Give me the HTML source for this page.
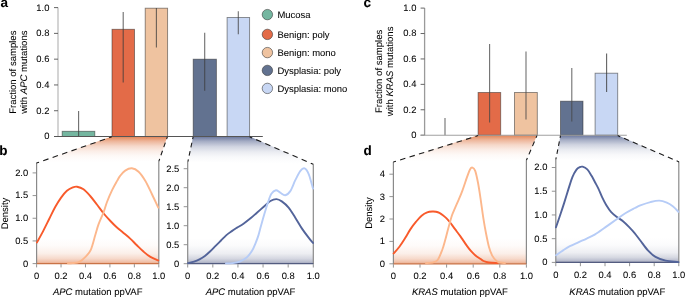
<!DOCTYPE html>
<html><head><meta charset="utf-8"><style>
html,body{margin:0;padding:0;background:#fff;width:685px;height:297px;overflow:hidden;}
svg{display:block;filter:blur(0.3px);}
text{text-rendering:geometricPrecision;font-family:"Liberation Sans", sans-serif;stroke:#000;stroke-width:0.06px;}
</style></head><body>
<svg width="685" height="297" viewBox="0 0 685 297">
<defs><linearGradient id="gTopO" x1="0" y1="0" x2="0" y2="1"><stop offset="0" stop-color="#df7a48" stop-opacity="0.92"/><stop offset="0.17" stop-color="#df7a48" stop-opacity="0.56"/><stop offset="0.36" stop-color="#df7a48" stop-opacity="0.29"/><stop offset="0.55" stop-color="#df7a48" stop-opacity="0.13"/><stop offset="0.73" stop-color="#df7a48" stop-opacity="0.045"/><stop offset="0.9" stop-color="#df7a48" stop-opacity="0.01"/><stop offset="1" stop-color="#df7a48" stop-opacity="0.0"/></linearGradient>
<linearGradient id="gTopB" x1="0" y1="0" x2="0" y2="1"><stop offset="0" stop-color="#5e6c96" stop-opacity="0.92"/><stop offset="0.17" stop-color="#5e6c96" stop-opacity="0.56"/><stop offset="0.36" stop-color="#5e6c96" stop-opacity="0.29"/><stop offset="0.55" stop-color="#5e6c96" stop-opacity="0.13"/><stop offset="0.73" stop-color="#5e6c96" stop-opacity="0.045"/><stop offset="0.9" stop-color="#5e6c96" stop-opacity="0.01"/><stop offset="1" stop-color="#5e6c96" stop-opacity="0.0"/></linearGradient>
<linearGradient id="gBotO" x1="0" y1="0" x2="0" y2="1"><stop offset="0" stop-color="#e07a48" stop-opacity="0.0"/><stop offset="0.3" stop-color="#e07a48" stop-opacity="0.03"/><stop offset="0.6" stop-color="#e07a48" stop-opacity="0.12"/><stop offset="0.8" stop-color="#e07a48" stop-opacity="0.28"/><stop offset="0.92" stop-color="#e07a48" stop-opacity="0.45"/><stop offset="1" stop-color="#e07a48" stop-opacity="0.65"/></linearGradient>
<linearGradient id="gBotB" x1="0" y1="0" x2="0" y2="1"><stop offset="0" stop-color="#6a7294" stop-opacity="0.0"/><stop offset="0.3" stop-color="#6a7294" stop-opacity="0.03"/><stop offset="0.6" stop-color="#6a7294" stop-opacity="0.12"/><stop offset="0.8" stop-color="#6a7294" stop-opacity="0.28"/><stop offset="0.92" stop-color="#6a7294" stop-opacity="0.45"/><stop offset="1" stop-color="#6a7294" stop-opacity="0.65"/></linearGradient></defs>
<rect width="685" height="297" fill="#fff"/>
<text x="0.5" y="7.1" font-size="13.5" text-anchor="start" fill="#000" font-weight="bold">a</text>
<text x="363.4" y="7.3" font-size="13.5" text-anchor="start" fill="#000" font-weight="bold">c</text>
<text x="-0.8" y="154.5" font-size="13.5" text-anchor="start" fill="#000" font-weight="bold">b</text>
<text x="363.6" y="154.5" font-size="13.5" text-anchor="start" fill="#000" font-weight="bold">d</text>
<path d="M111.8,136.6 L167.4,136.6 L158.9,161.1 L36.4,163.1 Z" fill="url(#gTopO)"/>
<path d="M193.1,136.6 L249.6,136.6 L313.3,164.3 L187.9,161.6 Z" fill="url(#gTopB)"/>
<path d="M478.1,135.3 L537,135.3 L526.4,160.3 L393.3,162.1 Z" fill="url(#gTopO)"/>
<path d="M560.5,135.3 L617.7,135.3 L679.1,161.9 L556,159.5 Z" fill="url(#gTopB)"/>
<rect x="62.2" y="131.3" width="32.6" height="5.2" fill="#74b6a0" stroke="rgba(40,40,40,0.55)" stroke-width="0.9"/>
<rect x="112" y="29.3" width="22.5" height="107.2" fill="#e36b48" stroke="rgba(40,40,40,0.55)" stroke-width="0.9"/>
<rect x="145.2" y="8.2" width="22.4" height="128.3" fill="#efc3a0" stroke="rgba(40,40,40,0.55)" stroke-width="0.9"/>
<rect x="193.2" y="59.2" width="23.2" height="77.3" fill="#627290" stroke="rgba(40,40,40,0.55)" stroke-width="0.9"/>
<rect x="227.1" y="17.5" width="22.5" height="119" fill="#c8d7f4" stroke="rgba(40,40,40,0.55)" stroke-width="0.9"/>
<line x1="78.6" y1="111.1" x2="78.6" y2="136.3" stroke="rgba(60,60,60,0.75)" stroke-width="1.1"/>
<line x1="123.2" y1="12" x2="123.2" y2="82.5" stroke="rgba(60,60,60,0.75)" stroke-width="1.1"/>
<line x1="156.4" y1="7.9" x2="156.4" y2="47.5" stroke="rgba(60,60,60,0.75)" stroke-width="1.1"/>
<line x1="204.7" y1="32.7" x2="204.7" y2="90.8" stroke="rgba(60,60,60,0.75)" stroke-width="1.1"/>
<line x1="238.3" y1="11.2" x2="238.3" y2="34.3" stroke="rgba(60,60,60,0.75)" stroke-width="1.1"/>
<line x1="58" y1="7.6" x2="58" y2="136.5" stroke="#c6c6c6" stroke-width="1.5"/>
<line x1="54" y1="136.5" x2="58" y2="136.5" stroke="#555" stroke-width="0.9"/>
<text x="49.4" y="139.4" font-size="9.4" text-anchor="end" fill="#000">0</text>
<line x1="54" y1="110.72" x2="58" y2="110.72" stroke="#555" stroke-width="0.9"/>
<text x="49.4" y="113.62" font-size="9.4" text-anchor="end" fill="#000">0.2</text>
<line x1="54" y1="84.94" x2="58" y2="84.94" stroke="#555" stroke-width="0.9"/>
<text x="49.4" y="87.84" font-size="9.4" text-anchor="end" fill="#000">0.4</text>
<line x1="54" y1="59.16" x2="58" y2="59.16" stroke="#555" stroke-width="0.9"/>
<text x="49.4" y="62.06" font-size="9.4" text-anchor="end" fill="#000">0.6</text>
<line x1="54" y1="33.38" x2="58" y2="33.38" stroke="#555" stroke-width="0.9"/>
<text x="49.4" y="36.28" font-size="9.4" text-anchor="end" fill="#000">0.8</text>
<line x1="54" y1="7.6" x2="58" y2="7.6" stroke="#555" stroke-width="0.9"/>
<text x="49.4" y="10.5" font-size="9.4" text-anchor="end" fill="#000">1.0</text>
<line x1="54" y1="136.5" x2="262.8" y2="136.5" stroke="#555" stroke-width="1.1"/>
<rect x="478.1" y="92.5" width="22.6" height="42.7" fill="#e36b48" stroke="rgba(40,40,40,0.55)" stroke-width="0.9"/>
<rect x="514.5" y="92.5" width="22.8" height="42.7" fill="#efc3a0" stroke="rgba(40,40,40,0.55)" stroke-width="0.9"/>
<rect x="560.5" y="101.2" width="22.5" height="34" fill="#627290" stroke="rgba(40,40,40,0.55)" stroke-width="0.9"/>
<rect x="595.1" y="73.2" width="22.6" height="62" fill="#c8d7f4" stroke="rgba(40,40,40,0.55)" stroke-width="0.9"/>
<line x1="445" y1="117.9" x2="445" y2="135.2" stroke="rgba(70,70,70,0.78)" stroke-width="1.1"/>
<line x1="489.6" y1="44" x2="489.6" y2="122.4" stroke="rgba(70,70,70,0.78)" stroke-width="1.1"/>
<line x1="526" y1="51.5" x2="526" y2="119.4" stroke="rgba(70,70,70,0.78)" stroke-width="1.1"/>
<line x1="571.8" y1="68.1" x2="571.8" y2="121.4" stroke="rgba(70,70,70,0.78)" stroke-width="1.1"/>
<line x1="606.6" y1="53.4" x2="606.6" y2="92.1" stroke="rgba(60,60,60,0.8)" stroke-width="1.1"/>
<line x1="424.6" y1="8.1" x2="424.6" y2="135.2" stroke="#9a9a9a" stroke-width="1.3"/>
<line x1="420.6" y1="135.2" x2="424.6" y2="135.2" stroke="#555" stroke-width="0.9"/>
<text x="416.4" y="138.1" font-size="9.4" text-anchor="end" fill="#000">0</text>
<line x1="420.6" y1="109.78" x2="424.6" y2="109.78" stroke="#555" stroke-width="0.9"/>
<text x="416.4" y="112.68" font-size="9.4" text-anchor="end" fill="#000">0.2</text>
<line x1="420.6" y1="84.36" x2="424.6" y2="84.36" stroke="#555" stroke-width="0.9"/>
<text x="416.4" y="87.26" font-size="9.4" text-anchor="end" fill="#000">0.4</text>
<line x1="420.6" y1="58.94" x2="424.6" y2="58.94" stroke="#555" stroke-width="0.9"/>
<text x="416.4" y="61.84" font-size="9.4" text-anchor="end" fill="#000">0.6</text>
<line x1="420.6" y1="33.52" x2="424.6" y2="33.52" stroke="#555" stroke-width="0.9"/>
<text x="416.4" y="36.42" font-size="9.4" text-anchor="end" fill="#000">0.8</text>
<line x1="420.6" y1="8.1" x2="424.6" y2="8.1" stroke="#555" stroke-width="0.9"/>
<text x="416.4" y="11" font-size="9.4" text-anchor="end" fill="#000">1.0</text>
<line x1="420.6" y1="135.2" x2="626.8" y2="135.2" stroke="#a0a0a0" stroke-width="1.1"/>
<circle cx="267.4" cy="14.6" r="5.2" fill="#74b6a0" stroke="rgba(40,40,40,0.6)" stroke-width="0.9"/>
<text x="277.5" y="18" font-size="9.45" text-anchor="start" fill="#000">Mucosa</text>
<circle cx="267.4" cy="34.4" r="5.2" fill="#e36b48" stroke="rgba(40,40,40,0.6)" stroke-width="0.9"/>
<text x="277.5" y="37.8" font-size="9.45" text-anchor="start" fill="#000">Benign: poly</text>
<circle cx="267.4" cy="52.6" r="5.2" fill="#efc3a0" stroke="rgba(40,40,40,0.6)" stroke-width="0.9"/>
<text x="277.5" y="56" font-size="9.45" text-anchor="start" fill="#000">Benign: mono</text>
<circle cx="267.4" cy="70.4" r="5.2" fill="#627290" stroke="rgba(40,40,40,0.6)" stroke-width="0.9"/>
<text x="277.5" y="73.8" font-size="9.45" text-anchor="start" fill="#000">Dysplasia: poly</text>
<circle cx="267.4" cy="88.4" r="5.2" fill="#c8d7f4" stroke="rgba(40,40,40,0.6)" stroke-width="0.9"/>
<text x="277.5" y="91.8" font-size="9.45" text-anchor="start" fill="#000">Dysplasia: mono</text>
<text transform="translate(20.2,72.2) rotate(-90)" font-size="9.55" text-anchor="middle" fill="#000"><tspan x="0" y="-4.4">Fraction of samples</tspan><tspan x="0" y="6.8">with <tspan font-style="italic">APC</tspan> mutations</tspan></text>
<text transform="translate(386.45,71.4) rotate(-90)" font-size="9.55" text-anchor="middle" fill="#000"><tspan x="0" y="-4.4">Fraction of samples</tspan><tspan x="0" y="6.8">with <tspan font-style="italic">KRAS</tspan> mutations</tspan></text>
<rect x="36.6" y="238" width="122.2" height="25.6" fill="url(#gBotO)"/>
<line x1="36.6" y1="163.1" x2="36.6" y2="264.1" stroke="#8a8a8a" stroke-width="1.2"/>
<line x1="158.8" y1="161.1" x2="158.8" y2="264.1" stroke="#8a8a8a" stroke-width="1.2"/>
<line x1="36.6" y1="263.6" x2="158.8" y2="263.6" stroke="#c97347" stroke-width="1.2"/>
<line x1="32.6" y1="263.6" x2="36.6" y2="263.6" stroke="#888" stroke-width="0.9"/>
<text x="28.2" y="266.5" font-size="9.4" text-anchor="end" fill="#000">0</text>
<line x1="32.6" y1="240.93" x2="36.6" y2="240.93" stroke="#888" stroke-width="0.9"/>
<text x="28.2" y="243.83" font-size="9.4" text-anchor="end" fill="#000">0.5</text>
<line x1="32.6" y1="218.25" x2="36.6" y2="218.25" stroke="#888" stroke-width="0.9"/>
<text x="28.2" y="221.15" font-size="9.4" text-anchor="end" fill="#000">1.0</text>
<line x1="32.6" y1="195.58" x2="36.6" y2="195.58" stroke="#888" stroke-width="0.9"/>
<text x="28.2" y="198.48" font-size="9.4" text-anchor="end" fill="#000">1.5</text>
<line x1="32.6" y1="172.9" x2="36.6" y2="172.9" stroke="#888" stroke-width="0.9"/>
<text x="28.2" y="175.8" font-size="9.4" text-anchor="end" fill="#000">2.0</text>
<line x1="36.6" y1="264.1" x2="36.6" y2="267.4" stroke="#888" stroke-width="0.9"/>
<text x="36.6" y="278.8" font-size="9.4" text-anchor="middle" fill="#000">0</text>
<line x1="61.04" y1="264.1" x2="61.04" y2="267.4" stroke="#888" stroke-width="0.9"/>
<text x="61.04" y="278.8" font-size="9.4" text-anchor="middle" fill="#000">0.2</text>
<line x1="85.48" y1="264.1" x2="85.48" y2="267.4" stroke="#888" stroke-width="0.9"/>
<text x="85.48" y="278.8" font-size="9.4" text-anchor="middle" fill="#000">0.4</text>
<line x1="109.92" y1="264.1" x2="109.92" y2="267.4" stroke="#888" stroke-width="0.9"/>
<text x="109.92" y="278.8" font-size="9.4" text-anchor="middle" fill="#000">0.6</text>
<line x1="134.36" y1="264.1" x2="134.36" y2="267.4" stroke="#888" stroke-width="0.9"/>
<text x="134.36" y="278.8" font-size="9.4" text-anchor="middle" fill="#000">0.8</text>
<line x1="158.8" y1="264.1" x2="158.8" y2="267.4" stroke="#888" stroke-width="0.9"/>
<text x="158.8" y="278.8" font-size="9.4" text-anchor="middle" fill="#000">1.0</text>
<text x="97.7" y="294.7" font-size="9.5" text-anchor="middle" fill="#000"><tspan font-style="italic">APC</tspan> mutation ppVAF</text>
<rect x="187.7" y="238" width="125.6" height="25.7" fill="url(#gBotB)"/>
<line x1="187.7" y1="161.6" x2="187.7" y2="264.2" stroke="#8a8a8a" stroke-width="1.2"/>
<line x1="313.3" y1="164.3" x2="313.3" y2="264.2" stroke="#8a8a8a" stroke-width="1.2"/>
<line x1="187.7" y1="263.7" x2="313.3" y2="263.7" stroke="#535c80" stroke-width="1.2"/>
<line x1="183.7" y1="263.7" x2="187.7" y2="263.7" stroke="#888" stroke-width="0.9"/>
<text x="179.3" y="266.6" font-size="9.4" text-anchor="end" fill="#000">0</text>
<line x1="183.7" y1="244.7" x2="187.7" y2="244.7" stroke="#888" stroke-width="0.9"/>
<text x="179.3" y="247.6" font-size="9.4" text-anchor="end" fill="#000">0.5</text>
<line x1="183.7" y1="225.7" x2="187.7" y2="225.7" stroke="#888" stroke-width="0.9"/>
<text x="179.3" y="228.6" font-size="9.4" text-anchor="end" fill="#000">1.0</text>
<line x1="183.7" y1="206.7" x2="187.7" y2="206.7" stroke="#888" stroke-width="0.9"/>
<text x="179.3" y="209.6" font-size="9.4" text-anchor="end" fill="#000">1.5</text>
<line x1="183.7" y1="187.7" x2="187.7" y2="187.7" stroke="#888" stroke-width="0.9"/>
<text x="179.3" y="190.6" font-size="9.4" text-anchor="end" fill="#000">2.0</text>
<line x1="183.7" y1="168.7" x2="187.7" y2="168.7" stroke="#888" stroke-width="0.9"/>
<text x="179.3" y="171.6" font-size="9.4" text-anchor="end" fill="#000">2.5</text>
<line x1="187.7" y1="264.2" x2="187.7" y2="267.5" stroke="#888" stroke-width="0.9"/>
<text x="187.7" y="278.9" font-size="9.4" text-anchor="middle" fill="#000">0</text>
<line x1="212.82" y1="264.2" x2="212.82" y2="267.5" stroke="#888" stroke-width="0.9"/>
<text x="212.82" y="278.9" font-size="9.4" text-anchor="middle" fill="#000">0.2</text>
<line x1="237.94" y1="264.2" x2="237.94" y2="267.5" stroke="#888" stroke-width="0.9"/>
<text x="237.94" y="278.9" font-size="9.4" text-anchor="middle" fill="#000">0.4</text>
<line x1="263.06" y1="264.2" x2="263.06" y2="267.5" stroke="#888" stroke-width="0.9"/>
<text x="263.06" y="278.9" font-size="9.4" text-anchor="middle" fill="#000">0.6</text>
<line x1="288.18" y1="264.2" x2="288.18" y2="267.5" stroke="#888" stroke-width="0.9"/>
<text x="288.18" y="278.9" font-size="9.4" text-anchor="middle" fill="#000">0.8</text>
<line x1="313.3" y1="264.2" x2="313.3" y2="267.5" stroke="#888" stroke-width="0.9"/>
<text x="313.3" y="278.9" font-size="9.4" text-anchor="middle" fill="#000">1.0</text>
<text x="250.5" y="294.7" font-size="9.5" text-anchor="middle" fill="#000"><tspan font-style="italic">APC</tspan> mutation ppVAF</text>
<rect x="393.4" y="238" width="133" height="25.8" fill="url(#gBotO)"/>
<line x1="393.4" y1="162.1" x2="393.4" y2="264.3" stroke="#8a8a8a" stroke-width="1.2"/>
<line x1="526.4" y1="160.3" x2="526.4" y2="264.3" stroke="#8a8a8a" stroke-width="1.2"/>
<line x1="393.4" y1="263.8" x2="526.4" y2="263.8" stroke="#c97347" stroke-width="1.2"/>
<line x1="389.4" y1="263.8" x2="393.4" y2="263.8" stroke="#888" stroke-width="0.9"/>
<text x="385" y="266.7" font-size="9.4" text-anchor="end" fill="#000">0</text>
<line x1="389.4" y1="241.4" x2="393.4" y2="241.4" stroke="#888" stroke-width="0.9"/>
<text x="385" y="244.3" font-size="9.4" text-anchor="end" fill="#000">1</text>
<line x1="389.4" y1="219" x2="393.4" y2="219" stroke="#888" stroke-width="0.9"/>
<text x="385" y="221.9" font-size="9.4" text-anchor="end" fill="#000">2</text>
<line x1="389.4" y1="196.6" x2="393.4" y2="196.6" stroke="#888" stroke-width="0.9"/>
<text x="385" y="199.5" font-size="9.4" text-anchor="end" fill="#000">3</text>
<line x1="389.4" y1="174.2" x2="393.4" y2="174.2" stroke="#888" stroke-width="0.9"/>
<text x="385" y="177.1" font-size="9.4" text-anchor="end" fill="#000">4</text>
<line x1="393.4" y1="264.3" x2="393.4" y2="267.6" stroke="#888" stroke-width="0.9"/>
<text x="393.4" y="279" font-size="9.4" text-anchor="middle" fill="#000">0</text>
<line x1="420" y1="264.3" x2="420" y2="267.6" stroke="#888" stroke-width="0.9"/>
<text x="420" y="279" font-size="9.4" text-anchor="middle" fill="#000">0.2</text>
<line x1="446.6" y1="264.3" x2="446.6" y2="267.6" stroke="#888" stroke-width="0.9"/>
<text x="446.6" y="279" font-size="9.4" text-anchor="middle" fill="#000">0.4</text>
<line x1="473.2" y1="264.3" x2="473.2" y2="267.6" stroke="#888" stroke-width="0.9"/>
<text x="473.2" y="279" font-size="9.4" text-anchor="middle" fill="#000">0.6</text>
<line x1="499.8" y1="264.3" x2="499.8" y2="267.6" stroke="#888" stroke-width="0.9"/>
<text x="499.8" y="279" font-size="9.4" text-anchor="middle" fill="#000">0.8</text>
<line x1="526.4" y1="264.3" x2="526.4" y2="267.6" stroke="#888" stroke-width="0.9"/>
<text x="526.4" y="279" font-size="9.4" text-anchor="middle" fill="#000">1.0</text>
<text x="459.9" y="294.7" font-size="9.5" text-anchor="middle" fill="#000"><tspan font-style="italic">KRAS</tspan> mutation ppVAF</text>
<rect x="555.8" y="238" width="123" height="24.4" fill="url(#gBotB)"/>
<line x1="555.8" y1="159.5" x2="555.8" y2="262.9" stroke="#8a8a8a" stroke-width="1.2"/>
<line x1="678.8" y1="161.9" x2="678.8" y2="262.9" stroke="#8a8a8a" stroke-width="1.2"/>
<line x1="555.8" y1="262.4" x2="678.8" y2="262.4" stroke="#535c80" stroke-width="1.2"/>
<line x1="551.8" y1="262.4" x2="555.8" y2="262.4" stroke="#888" stroke-width="0.9"/>
<text x="547.4" y="265.3" font-size="9.4" text-anchor="end" fill="#000">0</text>
<line x1="551.8" y1="238.67" x2="555.8" y2="238.67" stroke="#888" stroke-width="0.9"/>
<text x="547.4" y="241.57" font-size="9.4" text-anchor="end" fill="#000">0.5</text>
<line x1="551.8" y1="214.95" x2="555.8" y2="214.95" stroke="#888" stroke-width="0.9"/>
<text x="547.4" y="217.85" font-size="9.4" text-anchor="end" fill="#000">1.0</text>
<line x1="551.8" y1="191.22" x2="555.8" y2="191.22" stroke="#888" stroke-width="0.9"/>
<text x="547.4" y="194.12" font-size="9.4" text-anchor="end" fill="#000">1.5</text>
<line x1="551.8" y1="167.5" x2="555.8" y2="167.5" stroke="#888" stroke-width="0.9"/>
<text x="547.4" y="170.4" font-size="9.4" text-anchor="end" fill="#000">2.0</text>
<line x1="555.8" y1="262.9" x2="555.8" y2="266.2" stroke="#888" stroke-width="0.9"/>
<text x="555.8" y="277.6" font-size="9.4" text-anchor="middle" fill="#000">0</text>
<line x1="580.4" y1="262.9" x2="580.4" y2="266.2" stroke="#888" stroke-width="0.9"/>
<text x="580.4" y="277.6" font-size="9.4" text-anchor="middle" fill="#000">0.2</text>
<line x1="605" y1="262.9" x2="605" y2="266.2" stroke="#888" stroke-width="0.9"/>
<text x="605" y="277.6" font-size="9.4" text-anchor="middle" fill="#000">0.4</text>
<line x1="629.6" y1="262.9" x2="629.6" y2="266.2" stroke="#888" stroke-width="0.9"/>
<text x="629.6" y="277.6" font-size="9.4" text-anchor="middle" fill="#000">0.6</text>
<line x1="654.2" y1="262.9" x2="654.2" y2="266.2" stroke="#888" stroke-width="0.9"/>
<text x="654.2" y="277.6" font-size="9.4" text-anchor="middle" fill="#000">0.8</text>
<line x1="678.8" y1="262.9" x2="678.8" y2="266.2" stroke="#888" stroke-width="0.9"/>
<text x="678.8" y="277.6" font-size="9.4" text-anchor="middle" fill="#000">1.0</text>
<text x="617.3" y="294.7" font-size="9.5" text-anchor="middle" fill="#000"><tspan font-style="italic">KRAS</tspan> mutation ppVAF</text>
<text transform="translate(8.2,213.5) rotate(-90)" font-size="9.5" text-anchor="middle" fill="#000">Density</text>
<text transform="translate(371.8,213.0) rotate(-90)" font-size="9.5" text-anchor="middle" fill="#000">Density</text>
<path d="M37,242.4 C38.07,240.43 41.35,234.53 43.4,230.6 C45.45,226.67 47.33,222.73 49.3,218.8 C51.27,214.87 53.23,210.53 55.2,207 C57.17,203.47 59.15,200.3 61.1,197.6 C63.05,194.9 64.95,192.5 66.9,190.8 C68.85,189.1 71.12,188.08 72.8,187.4 C74.48,186.72 75.22,186.38 77,186.7 C78.78,187.02 81.3,187.75 83.5,189.3 C85.7,190.85 87.97,193.47 90.2,196 C92.43,198.53 94.65,201.58 96.9,204.5 C99.15,207.42 101.45,210.75 103.7,213.5 C105.95,216.25 108.23,218.7 110.4,221 C112.57,223.3 114.52,225.32 116.7,227.3 C118.88,229.28 121.25,231.02 123.5,232.9 C125.75,234.78 127.97,236.53 130.2,238.6 C132.43,240.67 134.65,243.1 136.9,245.3 C139.15,247.5 141.45,249.87 143.7,251.8 C145.95,253.73 147.97,255.47 150.4,256.9 C152.83,258.33 156.98,259.82 158.3,260.4" fill="none" stroke="#f85a2b" stroke-width="1.9" stroke-linecap="round" stroke-linejoin="round"/>
<path d="M68,263.3 C68.73,263.27 70.5,263.35 72.4,263.1 C74.3,262.85 77.22,262.85 79.4,261.8 C81.58,260.75 83.6,258.8 85.5,256.8 C87.4,254.8 89.17,253.43 90.8,249.8 C92.43,246.17 94,239.27 95.3,235 C96.6,230.73 97.2,228.03 98.6,224.2 C100,220.37 102.3,215.7 103.7,212 C105.1,208.3 105.6,205.63 107,202 C108.4,198.37 110.42,193.72 112.1,190.2 C113.78,186.68 115.77,183.28 117.1,180.9 C118.43,178.52 118.75,177.62 120.1,175.9 C121.45,174.18 123.23,171.87 125.2,170.6 C127.17,169.33 129.67,168.12 131.9,168.3 C134.13,168.48 136.35,169.58 138.6,171.7 C140.85,173.82 143.15,177.2 145.4,181 C147.65,184.8 149.95,190.07 152.1,194.5 C154.25,198.93 157.27,205.42 158.3,207.6" fill="none" stroke="#fcb78c" stroke-width="1.9" stroke-linecap="round" stroke-linejoin="round"/>
<path d="M188,263.1 C189.02,262.87 192.18,262.32 194.1,261.7 C196.02,261.08 197.7,260.35 199.5,259.4 C201.3,258.45 203.1,257.35 204.9,256 C206.7,254.65 208.52,252.98 210.3,251.3 C212.08,249.62 213.82,247.7 215.6,245.9 C217.38,244.1 219.2,242.3 221,240.5 C222.8,238.7 224.6,236.67 226.4,235.1 C228.2,233.53 230.08,232.3 231.8,231.1 C233.52,229.9 234.75,229.13 236.7,227.9 C238.65,226.67 241.25,225.25 243.5,223.7 C245.75,222.15 247.97,220.43 250.2,218.6 C252.43,216.77 254.65,214.67 256.9,212.7 C259.15,210.73 261.45,208.75 263.7,206.8 C265.95,204.85 268.27,202.28 270.4,201 C272.53,199.72 274.6,199.03 276.5,199.1 C278.4,199.17 279.78,199.98 281.8,201.4 C283.82,202.82 286.35,204.88 288.6,207.6 C290.85,210.32 293.07,214.2 295.3,217.7 C297.53,221.2 299.75,225.23 302,228.6 C304.25,231.97 306.97,235.52 308.8,237.9 C310.63,240.28 312.3,242.07 313,242.9" fill="none" stroke="#53649a" stroke-width="1.9" stroke-linecap="round" stroke-linejoin="round"/>
<path d="M226,263.4 C227.12,263.35 230.32,263.45 232.7,263.1 C235.08,262.75 237.97,262.23 240.3,261.3 C242.63,260.37 244.77,259.2 246.7,257.5 C248.63,255.8 250.4,253.55 251.9,251.1 C253.4,248.65 254.6,245.47 255.7,242.8 C256.8,240.13 257.6,238 258.5,235.1 C259.4,232.2 260.1,228.98 261.1,225.4 C262.1,221.82 263.37,217.4 264.5,213.6 C265.63,209.8 266.75,205.9 267.9,202.6 C269.05,199.3 270.07,195.85 271.4,193.8 C272.73,191.75 274.43,190.5 275.9,190.3 C277.37,190.1 278.65,191.78 280.2,192.6 C281.75,193.42 283.52,195.45 285.2,195.2 C286.88,194.95 288.62,193.6 290.3,191.1 C291.98,188.6 293.62,183.57 295.3,180.2 C296.98,176.83 298.85,172.87 300.4,170.9 C301.95,168.93 303.2,167.83 304.6,168.4 C306,168.97 307.4,170.93 308.8,174.3 C310.2,177.67 312.3,186.22 313,188.6" fill="none" stroke="#b6ccf7" stroke-width="1.9" stroke-linecap="round" stroke-linejoin="round"/>
<path d="M393.6,253.5 C394.57,252.37 397.5,249.23 399.4,246.7 C401.3,244.17 403.15,241.23 405,238.3 C406.85,235.37 408.65,231.87 410.5,229.1 C412.35,226.33 414.25,223.93 416.1,221.7 C417.95,219.47 419.75,217.25 421.6,215.7 C423.45,214.15 425.35,213.1 427.2,212.4 C429.05,211.7 431.23,211.6 432.7,211.5 C434.17,211.4 434.88,211.57 436,211.8 C437.12,212.03 438.25,212.33 439.4,212.9 C440.55,213.47 441.75,214.32 442.9,215.2 C444.05,216.08 445.17,217.07 446.3,218.2 C447.43,219.33 448.55,220.6 449.7,222 C450.85,223.4 452.05,225.07 453.2,226.6 C454.35,228.13 455.45,229.65 456.6,231.2 C457.75,232.75 459.03,234.42 460.1,235.9 C461.17,237.38 461.83,238.4 463,240.1 C464.17,241.8 465.75,244.25 467.1,246.1 C468.45,247.95 469.75,249.68 471.1,251.2 C472.45,252.72 473.68,253.93 475.2,255.2 C476.72,256.47 478.82,257.83 480.2,258.8 C481.58,259.77 482.07,260.38 483.5,261 C484.93,261.62 486.47,262.15 488.8,262.5 C491.13,262.85 496.05,263 497.5,263.1" fill="none" stroke="#f85a2b" stroke-width="1.9" stroke-linecap="round" stroke-linejoin="round"/>
<path d="M426,263.2 C427,263.12 430.07,263.23 432,262.7 C433.93,262.17 435.9,262.12 437.6,260 C439.3,257.88 440.93,253.33 442.2,250 C443.47,246.67 444.32,243.13 445.2,240 C446.08,236.87 446.75,234 447.5,231.2 C448.25,228.4 448.95,225.87 449.7,223.2 C450.45,220.53 451.13,217.68 452,215.2 C452.87,212.72 453.82,210.8 454.9,208.3 C455.98,205.8 457.23,203.2 458.5,200.2 C459.77,197.2 461.07,194.18 462.5,190.3 C463.93,186.42 465.85,180.37 467.1,176.9 C468.35,173.43 469.12,171.05 470,169.5 C470.88,167.95 471.53,167.37 472.4,167.6 C473.27,167.83 474.27,168.37 475.2,170.9 C476.13,173.43 477.13,178.35 478,182.8 C478.87,187.25 479.52,191.77 480.4,197.6 C481.28,203.43 482.37,211.85 483.3,217.8 C484.23,223.75 485.07,228.48 486,233.3 C486.93,238.12 487.87,242.98 488.9,246.7 C489.93,250.42 490.9,253.2 492.2,255.6 C493.5,258 495.4,259.97 496.7,261.1 C498,262.23 498.62,262.07 500,262.4 C501.38,262.73 504.17,262.98 505,263.1" fill="none" stroke="#fcb78c" stroke-width="1.9" stroke-linecap="round" stroke-linejoin="round"/>
<path d="M556,227.3 C556.68,225.28 558.75,219.23 560.1,215.2 C561.45,211.17 562.7,207.48 564.1,203.1 C565.5,198.72 567.1,193.28 568.5,188.9 C569.9,184.52 571.17,180.02 572.5,176.8 C573.83,173.58 575.32,171.2 576.5,169.6 C577.68,168 578.58,167.68 579.6,167.2 C580.62,166.72 581.32,166.33 582.6,166.7 C583.88,167.07 585.83,167.93 587.3,169.4 C588.77,170.87 590.12,173.37 591.4,175.5 C592.68,177.63 593.83,180.02 595,182.2 C596.17,184.38 597.22,186.12 598.4,188.6 C599.58,191.08 600.8,194.37 602.1,197.1 C603.4,199.83 604.68,202.5 606.2,205 C607.72,207.5 609.35,210.05 611.2,212.1 C613.05,214.15 615.28,215.75 617.3,217.3 C619.32,218.85 621.28,219.73 623.3,221.4 C625.32,223.07 627.55,225.4 629.4,227.3 C631.25,229.2 632.58,230.6 634.4,232.8 C636.22,235 638.05,237.57 640.3,240.5 C642.55,243.43 645.37,247.67 647.9,250.4 C650.43,253.13 652.55,255.18 655.5,256.9 C658.45,258.62 662.03,259.85 665.6,260.7 C669.17,261.55 674.75,261.77 676.9,262 C679.05,262.23 678.23,262.08 678.5,262.1" fill="none" stroke="#53649a" stroke-width="1.9" stroke-linecap="round" stroke-linejoin="round"/>
<path d="M556,255.3 C557.18,254.48 560.78,251.92 563.1,250.4 C565.42,248.88 567.37,247.55 569.9,246.2 C572.43,244.85 575.5,243.57 578.3,242.3 C581.1,241.03 583.9,239.92 586.7,238.6 C589.5,237.28 592.02,236.27 595.1,234.4 C598.18,232.53 601.85,229.75 605.2,227.4 C608.55,225.05 611.85,222.65 615.2,220.3 C618.55,217.95 622,215.35 625.3,213.3 C628.6,211.25 632.5,209.32 635,208 C637.5,206.68 637.73,206.38 640.3,205.4 C642.87,204.42 647.23,202.9 650.4,202.1 C653.57,201.3 656.57,200.52 659.3,200.6 C662.03,200.68 664.5,201.63 666.8,202.6 C669.1,203.57 671.17,204.87 673.1,206.4 C675.03,207.93 677.52,210.9 678.4,211.8" fill="none" stroke="#b6ccf7" stroke-width="1.9" stroke-linecap="round" stroke-linejoin="round"/>
<line x1="111.8" y1="136.8" x2="36.4" y2="163.1" stroke="#1a1a1a" stroke-width="1.1" stroke-dasharray="5.59 4.39" stroke-dashoffset="2.79"/>
<line x1="167.4" y1="136.8" x2="158.9" y2="161.1" stroke="#1a1a1a" stroke-width="1.1" stroke-dasharray="4.81 3.78" stroke-dashoffset="2.4"/>
<line x1="193.1" y1="136.8" x2="187.9" y2="161.6" stroke="#1a1a1a" stroke-width="1.1" stroke-dasharray="4.73 3.72" stroke-dashoffset="2.37"/>
<line x1="249.6" y1="136.8" x2="313.3" y2="164.3" stroke="#1a1a1a" stroke-width="1.1" stroke-dasharray="5.55 4.36" stroke-dashoffset="2.78"/>
<line x1="478.1" y1="135.6" x2="393.3" y2="162.1" stroke="#1a1a1a" stroke-width="1.1" stroke-dasharray="5.53 4.34" stroke-dashoffset="2.76"/>
<line x1="537" y1="135.6" x2="526.4" y2="160.3" stroke="#1a1a1a" stroke-width="1.1" stroke-dasharray="5.02 3.94" stroke-dashoffset="2.51"/>
<line x1="560.5" y1="135.6" x2="555.8" y2="159.5" stroke="#1a1a1a" stroke-width="1.1" stroke-dasharray="4.55 3.57" stroke-dashoffset="2.27"/>
<line x1="617.7" y1="135.6" x2="679.1" y2="161.9" stroke="#1a1a1a" stroke-width="1.1" stroke-dasharray="5.34 4.2" stroke-dashoffset="2.67"/>
</svg>
</body></html>
